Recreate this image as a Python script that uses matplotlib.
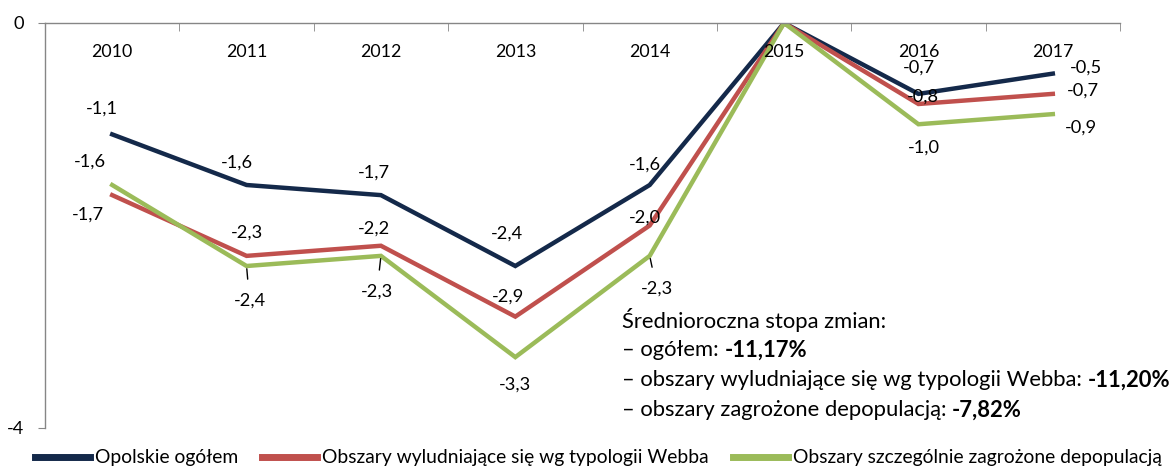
import numpy as np
import matplotlib.pyplot as plt

plt.rcParams['font.family'] = ['Lato', 'DejaVu Sans']

years = ['2010', '2011', '2012', '2013', '2014', '2015', '2016', '2017']
ogolem = [-1.1, -1.6, -1.7, -2.4, -1.6, 0.0, -0.7, -0.5]
webba = [-1.7, -2.3, -2.2, -2.9, -2.0, 0.0, -0.8, -0.7]
zagrozone = [-1.6, -2.4, -2.3, -3.3, -2.3, 0.0, -1.0, -0.9]
names = ['Opolskie ogółem', 'Obszary wyludniające się wg typologii Webba',
         'Obszary szczególnie zagrożone depopulacją']
colors = ['#14294a', '#c0504d', '#9bbb59']

# offsety etykiet danych (piksele)
off_blue = [(-10, 26), (-10, 22), (-7, 23), (-8, 32), (-5, 20), None, (1, 26), (33, 6)]
off_red = [(-24, -20), (0, 23), (-7, 17), (-7, 20), (-5, 8), None, (4, 7), (30, 3)]
off_green = [(-22, 23), (3, -35), (-4, -36), (0, -27), (7, -33), None, (5, -23), (28, -14)]
leader_green = [False, True, True, False, True, False, False, False]

W, H = 1176, 468
fig = plt.figure(figsize=(W / 100, H / 100), dpi=100)
renderer = fig.canvas.get_renderer()


def width_px(s, fs, weight='normal'):
    t = fig.text(0, 0, s, fontsize=fs, fontweight=weight)
    w = t.get_window_extent(renderer=renderer).width
    t.remove()
    return w


def fit(s, target, weight='normal'):
    return 12 * target / width_px(s, 12, weight)


fs_year = fit('2010', 41)
fs_lab = fit('-1,1', 32)
fs_leg = fit(names[0], 143)

ax = fig.add_axes([45 / W, 1 - 428 / H, (1120 - 45) / W, 405 / H])

x = np.arange(len(years))
series = [ogolem, webba, zagrozone]
for vals, col, name in zip(series, colors, names):
    ax.plot(x, vals, color=col, lw=3.2, label=name, solid_joinstyle='miter')

ax.set_xlim(-0.5, len(years) - 0.5)
ax.set_ylim(-4, 0)

for sp in ['right', 'bottom']:
    ax.spines[sp].set_visible(False)
for sp in ['top', 'left']:
    ax.spines[sp].set_color('#868686')
    ax.spines[sp].set_linewidth(1)

ax.set_xticks([])
ax.set_xticks(np.arange(-0.5, len(years)), minor=True)
ax.tick_params(axis='x', which='minor', direction='in', length=6, top=True,
               bottom=False, color='#868686')
ax.set_yticks([0, -4])
ax.set_yticklabels(['0', '-4'], fontsize=fs_lab)
ax.tick_params(axis='y', direction='out', length=5, color='#868686', pad=10)

# etykiety lat pod osią
for i, yr in enumerate(years):
    ax.annotate(yr, xy=(i, 0), xytext=(0, -29), textcoords='offset pixels',
                ha='center', va='center', fontsize=fs_year)


def fmt(v):
    return f'{v:.1f}'.replace('.', ',')


for vals, offs in [(ogolem, off_blue), (webba, off_red)]:
    for i, v in enumerate(vals):
        if offs[i] is None:
            continue
        ax.annotate(fmt(v), xy=(i, v), xytext=offs[i], textcoords='offset pixels',
                    ha='center', va='center', fontsize=fs_lab)

for i, v in enumerate(zagrozone):
    if off_green[i] is None:
        continue
    ap = None
    if leader_green[i]:
        ap = dict(arrowstyle='-', color='black', lw=1, shrinkA=8, shrinkB=2)
    ax.annotate(fmt(v), xy=(i, v), xytext=off_green[i], textcoords='offset pixels',
                ha='center', va='center', fontsize=fs_lab, arrowprops=ap)

# opis średniorocznej stopy zmian
lines = [('Średnioroczna stopa zmian:', ''),
         ('– ogółem: ', '-11,17%'),
         ('– obszary wyludniające się wg typologii Webba: ', '-11,20%'),
         ('– obszary zagrożone depopulacją: ', '-7,82%')]
long_n, long_b = lines[2]
fs_box = 12 * 549 / (width_px(long_n, 12) + width_px(long_b, 12, 'bold'))
for k, (normal, bold) in enumerate(lines):
    yy = 1 - (320 + 30 * k) / H
    t = fig.text(622 / W, yy, normal, fontsize=fs_box, va='center', ha='left')
    if bold:
        bb = t.get_window_extent(renderer=renderer)
        fig.text(bb.x1 / W, yy, bold, fontsize=fs_box, va='center',
                 ha='left', fontweight='bold')

# legenda
px_per_fs = fs_leg * 100 / 72
handles = ax.get_lines()
fig.legend(handles, names, loc='center left', bbox_to_anchor=(35 / W, 1 - 458 / H),
           ncol=3, frameon=False, fontsize=fs_leg, handlelength=55 / px_per_fs,
           handletextpad=5 / px_per_fs, columnspacing=24 / px_per_fs,
           borderaxespad=0, borderpad=0)
for ln in fig.legends[0].get_lines():
    ln.set_linewidth(5)

fig.savefig('out.png', dpi=100)
